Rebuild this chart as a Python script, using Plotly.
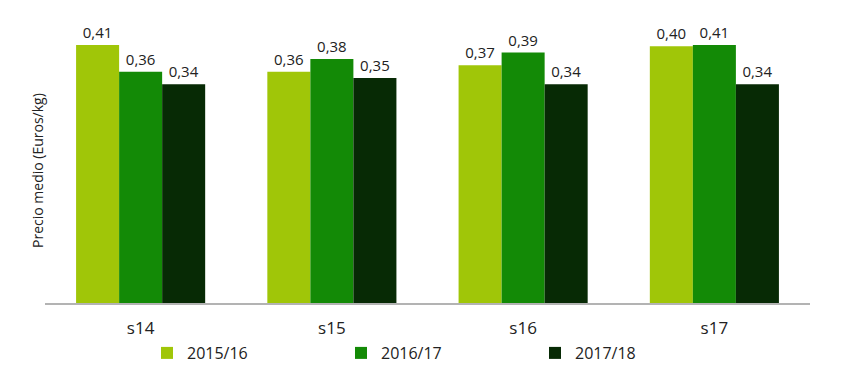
import plotly.graph_objects as go

categories = ["s14", "s15", "s16", "s17"]
series_names = ["2015/16", "2016/17", "2017/18"]
v_2015_16 = [0.406, 0.364, 0.374, 0.404]
v_2016_17 = [0.364, 0.384, 0.394, 0.406]
v_2017_18 = [0.344, 0.354, 0.344, 0.344]
colors = ["#a0c608", "#138a06", "#072a05"]

FONT = "Open Sans"
OFF = 8  # page body margin offset
W, H = 850, 374
L = 45 - OFF
T = 17 - OFF
R = W - (810 - OFF)
B = H - (303 - OFF)
pw = W - L - R
ph = H - T - B

fig = go.Figure()
for name, vals, col in zip(series_names, [v_2015_16, v_2016_17, v_2017_18], colors):
    fig.add_trace(go.Bar(
        x=categories, y=vals, name=name,
        marker=dict(color=col, line=dict(width=0)),
        texttemplate="%{y:.2f}", textposition="outside",
        textfont=dict(family=FONT, size=15, color="#222222"),
        cliponaxis=False,
    ))

fig.update_layout(
    width=W, height=H,
    margin=dict(l=L, r=R, t=T, b=B, autoexpand=False),
    separators=",.",
    barmode="group", bargap=0.325, bargroupgap=0,
    plot_bgcolor="white", paper_bgcolor="white",
    font=dict(family=FONT, color="#222222"),
    showlegend=True,
    legend=dict(orientation="h", x=(139 - L) / pw, xanchor="left",
                y=-((353 - OFF) - (H - B)) / ph, yanchor="middle",
                entrywidth=149, entrywidthmode="pixels",
                font=dict(family=FONT, size=16, color="#222222"),
                itemwidth=30, traceorder="normal"),
    xaxis=dict(showline=True, linecolor="#b3b3b3", linewidth=2, ticks="",
               ticklabelstandoff=9,
               tickfont=dict(family=FONT, size=17, color="#222222")),
    yaxis=dict(range=[0, 0.45], showgrid=False, showticklabels=False, zeroline=False,
               showline=False),
    annotations=[dict(text="Precio medio (Euros/kg)", textangle=-90,
                      x=((37 - OFF) - L) / pw, y=(H - B - (171 - OFF)) / ph,
                      xref="paper", yref="paper", showarrow=False,
                      xanchor="center", yanchor="middle",
                      font=dict(family=FONT, size=14, color="#222222"))],
)

fig.write_html("out.html")
